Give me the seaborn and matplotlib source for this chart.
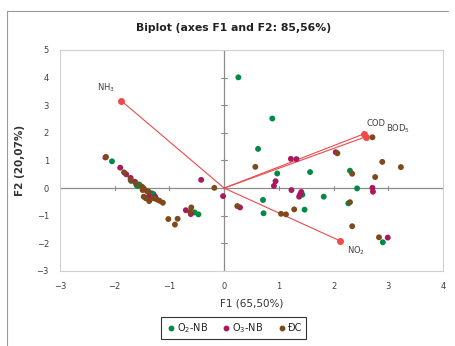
import matplotlib
matplotlib.use("Agg")
import matplotlib.pyplot as plt
import seaborn as sns
import pandas as pd
from matplotlib.lines import Line2D

# observations (F1, F2) per group
o2_x = [-2.05, -1.70, -1.60, -1.58, -1.55, -1.32, -1.29, -0.54, -0.47, 0.26, 0.88, 0.62,
        0.97, 1.57, 2.30, 2.43, 1.43, 1.82, 0.71, 0.72, 1.47, 2.27, 2.90]
o2_y = [0.97, 0.26, 0.10, 0.08, 0.13, -0.19, -0.22, -0.88, -0.95, 4.01, 2.52, 1.42,
        0.53, 0.58, 0.63, -0.01, -0.24, -0.31, -0.43, -0.91, -0.78, -0.55, -1.96]

o3_x = [-2.17, -1.90, -1.79, -1.71, -1.63, -1.41, -1.38, -1.26, -0.42, -0.02, -0.70, -0.61,
        1.22, 1.32, 2.04, 0.94, 0.91, 2.71, 2.72, 1.23, 1.41, 1.39, 1.37, 0.29, 2.99]
o3_y = [1.11, 0.74, 0.50, 0.37, 0.23, -0.11, -0.31, -0.31, 0.30, -0.29, -0.80, -0.94,
        1.06, 1.05, 1.30, 0.25, 0.08, 0.01, -0.13, -0.07, -0.14, -0.22, -0.31, -0.70, -1.79]

dc_x = [-2.16, -1.83, -1.71, -1.61, -1.50, -1.47, -1.49, -1.38, -1.47, -1.43, -1.37, -1.29,
        -1.23, -1.18, -1.12, -0.18, -1.02, -0.85, -0.90, -0.60, -0.62, 0.24, 0.57, 2.07,
        2.71, 2.89, 3.23, 2.34, 2.76, 1.04, 1.13, 1.28, 2.30, 2.34, 2.83]
dc_y = [1.13, 0.57, 0.30, 0.17, 0.05, -0.01, -0.07, -0.13, -0.31, -0.37, -0.47, -0.37,
        -0.41, -0.46, -0.53, 0.01, -1.12, -1.11, -1.32, -0.70, -0.86, -0.65, 0.77, 1.26,
        1.84, 0.95, 0.76, 0.52, 0.40, -0.93, -0.95, -0.77, -0.51, -1.38, -1.78]

# variable loadings
var_names = ["NH$_3$", "COD", "BOD$_5$", "NO$_2$"]
var_x = [-1.88, 2.55, 2.59, 2.12]
var_y = [3.16, 1.96, 1.86, -1.91]

groups = ["O$_2$-NB", "O$_3$-NB", "ĐC"]
colors = {"O$_2$-NB": "#008A45", "O$_3$-NB": "#A8195F", "ĐC": "#7E4A1B"}

df = pd.DataFrame({
    "F1": o2_x + o3_x + dc_x,
    "F2": o2_y + o3_y + dc_y,
    "group": [groups[0]] * len(o2_x) + [groups[1]] * len(o3_x) + [groups[2]] * len(dc_x),
})

sns.set_style("white")
plt.rcParams["font.family"] = ["DejaVu Sans"]
plt.rcParams["mathtext.default"] = "regular"

fig = plt.figure(figsize=(4.56, 3.46), dpi=100)
ax = fig.add_axes([0.1316, 0.2168, 0.8399, 0.6387])

ax.axhline(0, color="#8c8c8c", lw=0.9, zorder=1)
ax.axvline(0, color="#8c8c8c", lw=0.9, zorder=1)
# tick marks on the zero axes
for t in range(-3, 5):
    ax.plot([t, t], [-0.07, 0.07], color="#8c8c8c", lw=0.8, zorder=1)
for t in range(-3, 6):
    ax.plot([-0.06, 0.06], [t, t], color="#8c8c8c", lw=0.8, zorder=1)

sns.scatterplot(data=df, x="F1", y="F2", hue="group", palette=colors,
                s=18, linewidth=0, legend=False, ax=ax, zorder=3)

red = "#F0484B"
for name, vx, vy in zip(var_names, var_x, var_y):
    ax.plot([0, vx], [0, vy], color=red, lw=0.8, zorder=2)
    ax.plot(vx, vy, "o", color=red, ms=4, zorder=4)

lbl = dict(fontsize=6, color="#404040")
ax.text(var_x[0] - 0.12, var_y[0] + 0.25, var_names[0], ha="right", va="bottom", **lbl)
ax.text(var_x[1] + 0.06, var_y[1] + 0.22, var_names[1], ha="left", va="bottom", **lbl)
ax.text(var_x[2] + 0.37, var_y[2] + 0.05, var_names[2], ha="left", va="bottom", **lbl)
ax.text(var_x[3] + 0.12, var_y[3] - 0.12, var_names[3], ha="left", va="top", **lbl)

ax.set_xlim(-3, 4)
ax.set_ylim(-3, 5)
ax.set_xticks(range(-3, 5))
ax.set_yticks(range(-3, 6))
ax.tick_params(labelsize=6, colors="#404040", length=0, pad=8)
for s in ax.spines.values():
    s.set_color("#d0d0d0")
    s.set_linewidth(0.8)

ax.set_xlabel("F1 (65,50%)", fontsize=7.5, color="#333333", labelpad=5)
ax.set_ylabel("F2 (20,07%)", fontsize=7.5, fontweight="bold", color="#333333", labelpad=8)
fig.text(0.513, 0.918, "Biplot (axes F1 and F2: 85,56%)", ha="center", va="center",
         fontsize=7.8, fontweight="bold", color="#222222")

# chart area border (top and left visible)
fig.add_artist(Line2D([0.0154, 0.0154], [0, 0.968], color="#9a9a9a", lw=0.8))
fig.add_artist(Line2D([0.0154, 0.982], [0.968, 0.968], color="#9a9a9a", lw=0.8))

handles = [Line2D([], [], marker="o", ls="", color=colors[g], ms=3.2, label=g) for g in groups]
leg = fig.legend(handles=handles, loc="center", bbox_to_anchor=(0.513, 0.052), ncol=3,
                 fontsize=7, frameon=True, fancybox=False, handletextpad=0.1,
                 columnspacing=1.4, borderpad=0.45, handlelength=1.0)
leg.get_frame().set_edgecolor("black")
leg.get_frame().set_linewidth(0.8)

fig.savefig("out.png", dpi=100)
